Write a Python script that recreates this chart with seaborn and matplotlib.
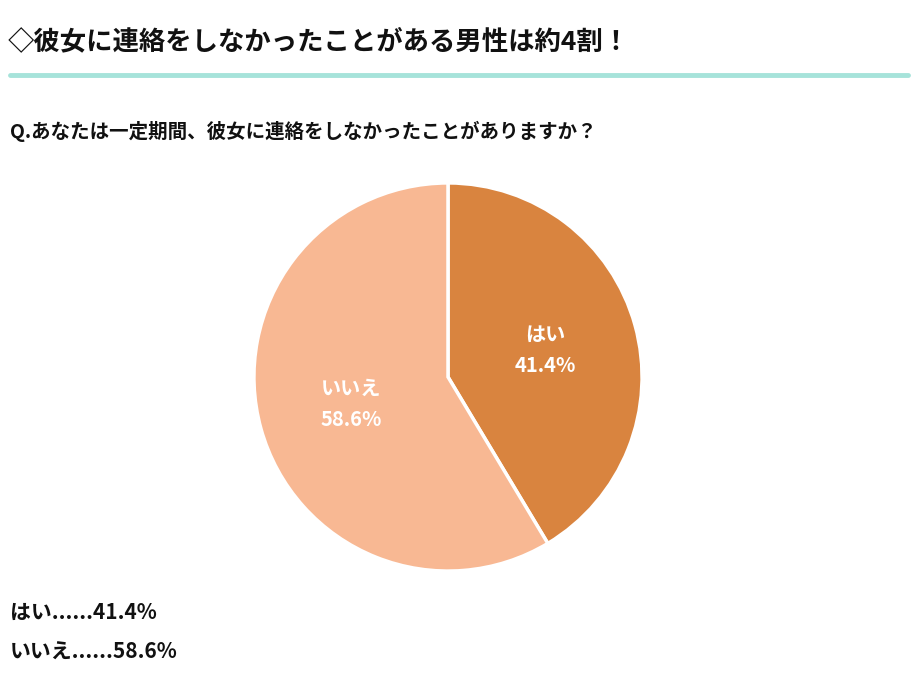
import matplotlib
matplotlib.use("Agg")
import matplotlib.pyplot as plt
import seaborn as sns

sns.set_theme(style="white", font="Noto Sans CJK JP")

labels = ["はい", "いいえ"]
values = [41.4, 58.6]
colors = ["#D9843F", "#F8B893"]

W, H = 916, 680
fig = plt.figure(figsize=(W / 100, H / 100), dpi=100)

# title + teal rule
fig.text(8 / W, 1 - 42 / H, "◇彼女に連絡をしなかったことがある男性は約4割！",
         fontsize=19, fontweight="bold", va="center", ha="left", color="#111111")
fig.add_artist(plt.Line2D([10 / W, 908 / W], [1 - 75 / H, 1 - 75 / H],
                          color="#A6E3DA", lw=3.5))
fig.text(10 / W, 1 - 131 / H, "Q.あなたは一定期間、彼女に連絡をしなかったことがありますか？",
         fontsize=14, fontweight="bold", va="center", ha="left", color="#111111")

# pie
cx, cy, r = 448, 377, 196
ax = fig.add_axes([(cx - r) / W, (H - cy - r) / H, 2 * r / W, 2 * r / H])
it = iter(labels)
wedges, texts, autotexts = ax.pie(
    values, colors=colors, startangle=90, counterclock=False,
    wedgeprops=dict(edgecolor="white", linewidth=2.5),
    autopct=lambda p: f"{next(it)}\n{p:.1f}%", pctdistance=0.52)
for t in autotexts:
    t.set_color("white")
    t.set_fontsize(14.5)
    t.set_fontweight("bold")
    t.set_linespacing(1.6)
ax.set_xlim(-1.01, 1.01)
ax.set_ylim(-1.01, 1.01)
ax.set_aspect("equal")

# bottom summary
for y, lab, v in [(612, labels[0], values[0]), (652, labels[1], values[1])]:
    fig.text(10 / W, 1 - y / H, f"{lab}......{v}%", fontsize=15,
             fontweight="bold", va="center", ha="left", color="#111111")

fig.savefig("out.png", dpi=100, facecolor="white")
